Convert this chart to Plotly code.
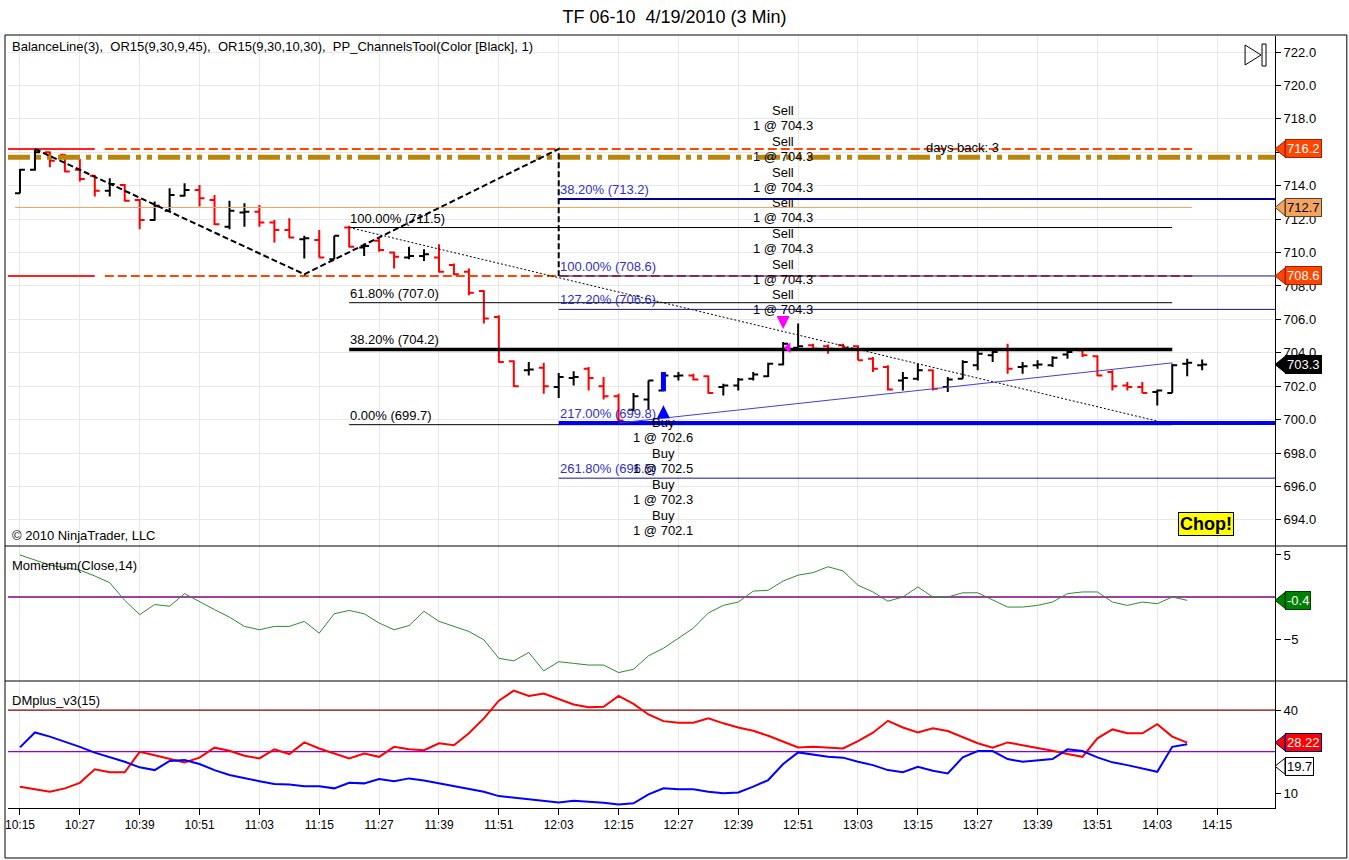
import pandas as pd
import plotly.graph_objects as go

DAY = "2010-04-19 "

# 3 min bars, 10:15 .. 14:12
bar_open = [713.55, 714.95, 716.0, 715.85, 714.95, 714.6, 713.7, 714.05, 713.15, 711.95,
            712.5, 713.4, 713.75, 713.15, 711.55, 712.4, 712.45, 711.8, 711.35, 710.8,
            710.75, 709.6, 711.5, 710.3, 710.7, 710.0, 709.7, 709.8, 709.7, 709.25,
            708.85, 707.7, 706.15, 703.5, 702.95, 703.1, 701.95, 702.5, 703.05, 702.0,
            701.4, 700.6, 701.2, 701.75, 702.6, 702.65, 702.6, 701.95, 702.05, 702.45,
            702.6, 703.3, 704.3, 704.45, 704.4, 704.45, 704.4, 703.65, 703.15, 702.35,
            702.45, 702.95, 701.95, 702.45, 703.25, 703.85, 704.2, 703.15, 703.25, 703.25,
            703.9, 704.15, 703.8, 702.85, 702.05, 701.95, 701.65, 701.6, 703.35, 703.25]
bar_high = [715.0, 716.25, 716.05, 715.9, 715.6, 714.65, 714.45, 714.1, 713.2, 713.05,
            713.85, 714.15, 714.05, 713.45, 713.1, 712.95, 712.85, 711.95, 712.05, 711.0,
            711.35, 711.0, 711.6, 710.55, 710.85, 710.05, 710.35, 710.2, 710.5, 709.35,
            709.05, 707.75, 706.25, 703.55, 703.45, 703.4, 702.8, 702.9, 703.15, 702.55,
            701.55, 701.6, 702.35, 702.85, 702.85, 702.75, 702.65, 702.15, 702.5, 702.85,
            703.4, 704.65, 705.75, 704.55, 704.5, 704.55, 704.45, 703.75, 703.25, 702.85,
            703.35, 703.0, 702.55, 703.55, 704.15, 704.25, 704.55, 703.45, 703.55, 703.8,
            704.25, 704.25, 703.85, 702.95, 702.25, 702.25, 701.8, 703.35, 703.65, 703.6]
bar_low = [713.55, 714.9, 715.1, 714.8, 714.25, 713.35, 713.35, 713.05, 711.4, 711.9,
           712.5, 713.35, 712.75, 711.65, 711.4, 711.55, 711.55, 710.6, 710.85, 709.65,
           709.7, 709.6, 710.3, 709.8, 710.05, 709.05, 709.6, 709.5, 708.8, 708.65,
           707.45, 705.75, 703.4, 701.95, 702.65, 701.55, 701.3, 702.05, 701.75, 701.2,
           699.8, 700.5, 700.6, 701.7, 702.35, 702.35, 701.55, 701.45, 701.75, 702.35,
           702.55, 703.25, 704.3, 704.15, 703.95, 704.15, 703.55, 702.85, 701.75, 701.75,
           702.35, 701.75, 701.65, 702.45, 702.95, 703.45, 702.75, 702.75, 703.05, 703.15,
           703.65, 703.75, 702.6, 701.75, 701.75, 701.6, 700.85, 701.6, 702.6, 702.95]
bar_close = [714.95, 716.0, 715.5, 714.85, 714.4, 713.7, 714.1, 713.1, 711.95, 712.8,
             713.45, 713.75, 713.25, 711.7, 712.5, 712.45, 711.8, 711.35, 710.9, 710.85,
             709.7, 711.0, 710.35, 710.4, 710.15, 709.75, 709.8, 709.9, 708.85, 708.7,
             707.6, 706.05, 703.45, 702.0, 703.0, 702.0, 702.55, 702.55, 702.5, 701.4,
             699.95, 701.4, 702.35, 702.65, 702.65, 702.4, 701.6, 702.05, 702.4, 702.7,
             703.35, 704.55, 704.4, 704.25, 704.25, 704.3, 703.55, 703.05, 701.8, 702.5,
             702.95, 701.85, 702.4, 703.45, 703.95, 704.05, 703.05, 703.2, 703.3, 703.7,
             704.05, 703.85, 702.65, 702.0, 701.95, 701.6, 701.75, 703.25, 703.4, 703.3]

# indicators are on bar close, so one value less than the bars
momentum = [5.0, 4.4, 3.8, 3.5, 3.2, 2.5, 1.7, -0.4, -2.1, -0.9,
            -1.1, 0.4, -0.6, -1.5, -2.4, -3.5, -3.9, -3.5, -3.5, -2.9,
            -4.3, -2.0, -1.6, -2.0, -3.1, -3.9, -3.4, -1.7, -2.9, -3.5,
            -4.1, -5.1, -7.3, -7.6, -6.6, -8.8, -7.7, -7.9, -8.1, -8.1,
            -9.0, -8.6, -7.0, -6.1, -4.9, -3.7, -1.9, -1.0, -0.6, 0.7,
            0.8, 1.9, 2.6, 2.9, 3.6, 3.1, 1.4, 0.6, -0.5, 0.0,
            1.2, 0.0, 0.0, 0.5, 0.5, -0.4, -1.2, -1.2, -1.0, -0.6,
            0.4, 0.6, 0.6, -0.6, -1.0, -0.6, -0.8, 0.0, -0.4]
dm_plus = [12.3, 11.3, 10.5, 11.7, 13.7, 18.6, 17.5, 17.5, 24.9, 23.7,
           22.3, 21.1, 22.8, 26.4, 25.3, 23.5, 22.5, 25.8, 24.1, 28.3,
           26.1, 24.3, 22.5, 24.3, 23.1, 26.7, 25.8, 25.5, 28.0, 27.3,
           31.6, 37.0, 43.4, 47.0, 45.1, 46.0, 43.9, 42.0, 41.0, 41.2,
           45.1, 42.2, 38.4, 36.0, 35.4, 35.4, 37.0, 35.2, 33.7, 32.5,
           30.7, 28.6, 26.5, 26.7, 26.5, 26.1, 28.8, 31.8, 36.1, 33.7,
           31.9, 33.4, 32.4, 30.1, 28.0, 26.4, 28.3, 27.3, 26.4, 25.3,
           24.1, 23.1, 29.8, 33.0, 31.6, 31.6, 34.9, 30.4, 28.22]
dm_minus = [26.5, 31.9, 30.4, 28.6, 26.7, 24.6, 22.9, 21.3, 19.3, 18.3,
            21.6, 21.9, 20.5, 18.3, 16.5, 15.3, 14.3, 13.3, 13.1, 12.5,
            12.5, 11.7, 13.7, 13.5, 15.1, 14.3, 15.3, 14.5, 13.5, 12.7,
            11.7, 10.5, 8.9, 8.3, 7.8, 7.1, 6.6, 7.2, 6.9, 6.5,
            5.9, 6.3, 9.5, 11.7, 11.4, 11.4, 10.5, 9.9, 10.2, 12.3,
            14.7, 20.5, 24.7, 24.0, 23.1, 22.8, 21.3, 20.1, 18.3, 17.5,
            19.5, 18.1, 17.1, 22.9, 25.2, 25.2, 22.3, 21.3, 21.9, 22.3,
            25.8, 25.2, 22.9, 21.1, 20.1, 18.9, 17.7, 26.7, 27.6]

# opening range / prior levels
or_high = 716.2
or_low = 708.6
balance_line = 715.7
mid_line = 712.7
last_price = 703.3

# drawing tools
zigzag_t = ["10:18", "11:12", "12:03", "12:03"]
zigzag_p = [716.2, 708.7, 716.2, 708.6]
fib_t = ["11:21", "14:06"]
fib_anchor = [711.5, 699.7]
fib_pct = ["100.00%", "61.80%", "38.20%", "0.00%"]
fib_lvl = [711.5, 707.0, 704.2, 699.7]
ext_start = "12:03"
ext_pct = ["38.20%", "100.00%", "127.20%", "217.00%", "261.80%"]
ext_lvl = [713.2, 708.6, 706.6, 699.8, 696.5]
ext_diag_t = ["12:15", "14:06"]
ext_diag_p = [699.8, 703.4]

# executions
buy_bar = 43
buy_prices = [702.6, 702.5, 702.3, 702.1]
sell_bar = 51
sell_prices = [704.3] * 7

# ---- layout geometry (pixels)
W, H = 1349, 860
ML, MR, MT, MB = 5, 74, 36, 52
PW = W - ML - MR
PH = H - MT - MB


def px_x(px):
    return (px - ML) / PW


def px_y(py):
    return (H - MB - py) / PH


def t(hm):
    return DAY + hm


dom_price = [px_y(546), 1.0]
dom_mom = [px_y(681), px_y(546)]
dom_dm = [0.0, px_y(681)]
rng_price = [692.44, 722.96]
rng_mom = [-10.0, 6.07]
rng_dm = [4.6, 50.5]
ppu_price = (dom_price[1] - dom_price[0]) * PH / (rng_price[1] - rng_price[0])
ppu_mom = (dom_mom[1] - dom_mom[0]) * PH / (rng_mom[1] - rng_mom[0])
ppu_dm = (dom_dm[1] - dom_dm[0]) * PH / (rng_dm[1] - rng_dm[0])

x_start = pd.Timestamp(DAY + "10:12:36")
x_end = pd.Timestamp(DAY + "14:26:36")
bar_time = pd.date_range(DAY + "10:15", periods=len(bar_close), freq="3min")
ind_time = bar_time[:len(momentum)]

FONT = "Liberation Sans, Arial, sans-serif"

fig = go.Figure()


def hline(y0, t0, t1, color, width, dash="solid", yaxis="y"):
    fig.add_trace(go.Scatter(x=[t0, t1], y=[y0, y0], mode="lines", yaxis=yaxis,
                             line=dict(color=color, width=width, dash=dash),
                             hoverinfo="skip"))


# opening range lines
for lvl in [or_high, or_low]:
    hline(lvl, x_start, t("10:30"), "#FF2020", 2)
    hline(lvl, t("10:32"), t("14:10"), "#FF4500", 2, "9px,4px")
hline(balance_line, x_start, x_end, "#B8860B", 5, "22px,6px,5px,6px,5px,6px")
hline(mid_line, t("10:14"), t("14:10"), "#F0A060", 1)

# fib retracement
for pct, lvl in zip(fib_pct, fib_lvl):
    hline(lvl, t(fib_t[0]), t(fib_t[1]), "black", 3.5 if pct == "38.20%" else 1)
    fig.add_annotation(x=t(fib_t[0]), y=lvl, text=f"{pct} ({lvl:.1f})", showarrow=False,
                       xanchor="left", yanchor="bottom", xshift=-1,
                       font=dict(size=13, color="black"))
fig.add_trace(go.Scatter(x=[t(v) for v in fib_t], y=fib_anchor, mode="lines",
                         line=dict(color="black", width=1, dash="2px,2px"), hoverinfo="skip"))

# fib extension
ext_w = {"38.20%": 2, "217.00%": 4}
ext_c = {"38.20%": "#00008B", "217.00%": "#0000EE"}
for pct, lvl in zip(ext_pct, ext_lvl):
    hline(lvl, t(ext_start), x_end, ext_c.get(pct, "#1010A0"), ext_w.get(pct, 1))
    fig.add_annotation(x=t(ext_start), y=lvl, text=f"{pct} ({lvl:.1f})", showarrow=False,
                       xanchor="left", yanchor="bottom", xshift=-1,
                       font=dict(size=13, color="#3030C8"))
fig.add_trace(go.Scatter(x=[t(v) for v in ext_diag_t], y=ext_diag_p, mode="lines",
                         line=dict(color="#4040D8", width=1), hoverinfo="skip"))

# zigzag
fig.add_trace(go.Scatter(x=[t(v) for v in zigzag_t], y=zigzag_p, mode="lines",
                         line=dict(color="black", width=2, dash="6px,3px"), hoverinfo="skip"))

# execution markers
bt = bar_time[buy_bar]
st = bar_time[sell_bar]
fig.add_trace(go.Scatter(x=[bt, bt], y=[bar_low[buy_bar], bar_high[buy_bar]], mode="lines",
                         line=dict(color="#0000FF", width=5), hoverinfo="skip"))
fig.add_trace(go.Scatter(x=[bt], y=[bar_low[buy_bar] - 14 / ppu_price], mode="markers",
                         marker=dict(symbol="arrow-up", size=13, color="#0000FF"),
                         hoverinfo="skip"))
fig.add_trace(go.Scatter(x=[st], y=[bar_high[sell_bar] + 13 / ppu_price], mode="markers",
                         marker=dict(symbol="arrow-down", size=13, color="#FF00FF"),
                         hoverinfo="skip"))
fig.add_trace(go.Scatter(x=[st + pd.Timedelta(minutes=1)], y=[sell_prices[0]], mode="markers",
                         marker=dict(symbol="triangle-left", size=9, color="#FF00FF"),
                         hoverinfo="skip"))

# price bars
fig.add_trace(go.Ohlc(x=bar_time, open=bar_open, high=bar_high, low=bar_low, close=bar_close,
                      increasing_line_color="black", decreasing_line_color="#FF0000",
                      line_width=2, tickwidth=0.33, hoverinfo="skip"))

# trade labels
for k, p in enumerate(sell_prices):
    base = 32 + 30.67 * k
    fig.add_annotation(x=st, y=bar_high[sell_bar], text=f"1 @ {p:.1f}", showarrow=False,
                       yshift=base, font=dict(size=13, color="black"))
    fig.add_annotation(x=st, y=bar_high[sell_bar], text="Sell", showarrow=False,
                       yshift=base + 15, font=dict(size=13, color="black"))
for k, p in enumerate(buy_prices):
    base = -31 - 31 * k
    fig.add_annotation(x=bt, y=bar_low[buy_bar], text="Buy", showarrow=False,
                       yshift=base, font=dict(size=13, color="black"))
    fig.add_annotation(x=bt, y=bar_low[buy_bar], text=f"1 @ {p:.1f}", showarrow=False,
                       yshift=base - 15, font=dict(size=13, color="black"))

# momentum panel
fig.add_trace(go.Scatter(x=[x_start, x_end], y=[0, 0], yaxis="y2", mode="lines",
                         line=dict(color="#800080", width=1.5), hoverinfo="skip"))
fig.add_trace(go.Scatter(x=ind_time, y=momentum, yaxis="y2", mode="lines",
                         line=dict(color="#2E8B2E", width=1), hoverinfo="skip"))

# DM panel
hline(40, x_start, x_end, "#800000", 1.2, yaxis="y3")
hline(25, x_start, x_end, "#9400D3", 1.2, yaxis="y3")
fig.add_trace(go.Scatter(x=ind_time, y=dm_plus, yaxis="y3", mode="lines",
                         line=dict(color="#FF0000", width=2), hoverinfo="skip"))
fig.add_trace(go.Scatter(x=ind_time, y=dm_minus, yaxis="y3", mode="lines",
                         line=dict(color="#0000FF", width=2), hoverinfo="skip"))


# axis flags
def flag(value, text, yref, ppu, bg, fg, border):
    tip = 10 / PW
    half = 8 / ppu
    fig.add_shape(type="path", xref="paper", yref=yref, layer="above",
                  path=f"M 1 {value} L {1 + tip} {value + half} L {1 + tip} {value - half} Z",
                  fillcolor=bg, line=dict(color=border, width=1))
    fig.add_annotation(x=1, xref="paper", y=value, yref=yref, xanchor="left", xshift=10,
                       text=text, showarrow=False, bgcolor=bg, bordercolor=border,
                       borderwidth=1, borderpad=1, font=dict(size=13, color=fg))


flag(or_high, f"{or_high:.1f}", "y", ppu_price, "#FF4500", "white", "#A02000")
flag(mid_line, f"{mid_line:.1f}", "y", ppu_price, "#F4A460", "black", "#604020")
flag(or_low, f"{or_low:.1f}", "y", ppu_price, "#FF4500", "white", "#A02000")
flag(last_price, f"{last_price:.1f}", "y", ppu_price, "black", "white", "black")
flag(momentum[-1], f"{momentum[-1]:.1f}", "y2", ppu_mom, "#008000", "white", "#004000")
flag(dm_plus[-1], f"{dm_plus[-1]:.2f}", "y3", ppu_dm, "#FF0000", "white", "#000080")
flag(19.7, "19.7", "y3", ppu_dm, "white", "black", "black")

# text labels
def paper_text(px, py, text, size=13, **kw):
    fig.add_annotation(x=px_x(px), y=px_y(py), xref="paper", yref="paper", text=text,
                       showarrow=False, xanchor="left", yanchor="middle",
                       font=dict(size=size, color="black"), **kw)


NB = "\u00a0"
paper_text(7, 46, f"BalanceLine(3),{NB} OR15(9,30,9,45),{NB} OR15(9,30,10,30),{NB} "
                  f"PP_ChannelsTool(Color [Black], 1)")
paper_text(7, 535, "© 2010 NinjaTrader, LLC")
paper_text(7, 565, "Momentum(Close,14)")
paper_text(7, 700, "DMplus_v3(15)")
paper_text(923, 148, "days back: 3")
fig.add_annotation(x=px_x(1234), y=px_y(524), xref="paper", yref="paper", text="<b>Chop!</b>",
                   showarrow=False, bgcolor="#FFFF00", bordercolor="black", borderwidth=1,
                   borderpad=1, font=dict(size=18, color="black"))

# play icon
fig.add_shape(type="path", xref="paper", yref="paper", line=dict(color="black", width=1),
              path=f"M {px_x(1245)} {px_y(45)} L {px_x(1261)} {px_y(55)} "
                   f"L {px_x(1245)} {px_y(65)} Z")
fig.add_shape(type="rect", xref="paper", yref="paper", line=dict(color="black", width=1),
              x0=px_x(1262), x1=px_x(1266), y0=px_y(44), y1=px_y(66))

# frame and panel separators
fig.add_shape(type="rect", xref="paper", yref="paper", line=dict(color="black", width=1),
              x0=px_x(2), x1=px_x(1347), y0=px_y(858), y1=px_y(35))
for sep in [546, 681]:
    fig.add_shape(type="line", xref="paper", yref="paper", line=dict(color="black", width=1),
                  x0=px_x(2), x1=px_x(1347), y0=px_y(sep), y1=px_y(sep))

axis_common = dict(side="right", anchor="x", showline=True, linecolor="black", linewidth=1,
                   ticks="outside", ticklen=5, tickcolor="black", zeroline=False,
                   tickfont=dict(size=13, color="black"))

fig.update_layout(
    width=W, height=H,
    margin=dict(l=ML, r=MR, t=MT, b=MB),
    paper_bgcolor="white", plot_bgcolor="white",
    showlegend=False,
    font=dict(family=FONT, color="black"),
    title=dict(text=f"TF 06-10{NB}{NB}4/19/2010 (3 Min)", x=0.5, xanchor="center",
               y=1 - 17 / H, yanchor="middle", font=dict(size=18, color="black")),
    xaxis=dict(range=[x_start, x_end], anchor="y3", tick0=DAY + "10:15", dtick=12 * 60 * 1000,
               tickformat="%H:%M", showgrid=True, gridcolor="#E8E8E8", ticks="outside",
               ticklen=6, tickcolor="black", showline=True, linecolor="black",
               tickfont=dict(size=12, color="black"), rangeslider=dict(visible=False)),
    yaxis=dict(domain=dom_price, range=rng_price, tickvals=list(range(694, 723, 2)),
               tickformat=".1f", showgrid=True, gridcolor="#E8E8E8", **axis_common),
    yaxis2=dict(domain=dom_mom, range=rng_mom, tickvals=[-5, 5], showgrid=False, **axis_common),
    yaxis3=dict(domain=dom_dm, range=rng_dm, tickvals=[10, 20, 40], showgrid=False,
                **axis_common),
)

# page body margin would shift the fixed-size figure
fig.write_html("out.html", config={"displayModeBar": False},
               post_script="document.body.style.margin='0px';"
                           "document.body.style.overflow='hidden';")
